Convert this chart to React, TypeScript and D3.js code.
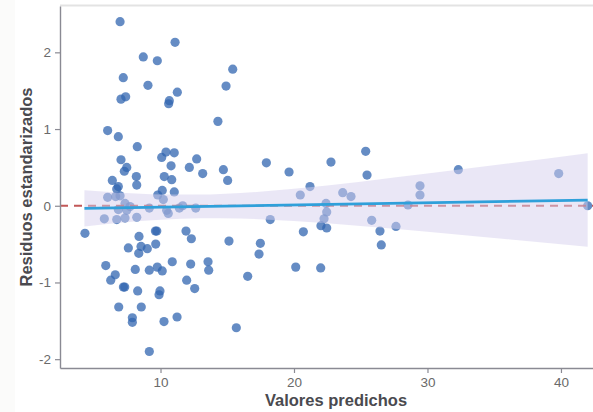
import { useEffect, useRef } from 'react';
import * as d3 from 'd3';

// valores predichos (x) y residuos estandarizados (y)
const predichos = [
  6.97, 11.09, 8.71, 9.76, 7.21, 9.06, 7.39, 7.04, 10.66, 10.61, 11.26, 14.30, 6.04, 15.41, 14.91,
  6.84, 8.26, 7.04, 7.47, 7.29, 8.19, 8.22, 6.39, 6.84, 6.72, 10.09, 10.41, 11.03, 10.79, 10.28,
  10.84, 10.13, 11.03, 9.79, 10.21, 12.16, 12.71, 13.16, 14.71, 15.03, 17.93, 19.63, 22.77, 25.37, 25.47,
  21.20, 20.47, 23.65, 24.27, 22.40, 22.45, 22.25, 18.22, 25.82, 22.02, 22.45, 20.70, 26.44, 27.64, 28.54,
  26.54, 15.13, 17.48, 17.38, 13.56, 13.61, 16.53, 20.13, 22.00, 15.68, 42.00, 32.31, 39.83, 29.44, 29.44,
  6.04, 6.64, 6.97, 7.34, 7.72, 6.84, 7.47, 9.16, 10.46, 10.58, 11.41, 11.66, 12.64, 5.79, 6.72,
  7.34, 8.22, 4.34, 9.62, 9.72, 11.91, 8.39,
  12.31, 7.59, 8.54, 9.01, 8.37, 9.64, 5.90, 6.61, 6.27, 8.11, 9.16, 9.76, 10.13, 10.88, 12.26,
  11.96, 12.56, 7.22, 7.32, 8.29, 9.96, 9.89, 6.87, 8.56, 7.89, 7.89, 10.26, 11.24, 9.16,
];
const residuos = [
  2.40, 2.13, 1.94, 1.89, 1.67, 1.57, 1.42, 1.39, 1.37, 1.33, 1.48, 1.10, 0.98, 1.78, 1.56,
  0.90, 0.77, 0.60, 0.50, 0.45, 0.38, 0.27, 0.33, 0.25, 0.22, 0.63, 0.70, 0.69, 0.52, 0.38,
  0.34, 0.20, 0.18, 0.14, 0.08, 0.50, 0.61, 0.42, 0.47, 0.33, 0.56, 0.44, 0.57, 0.71, 0.40,
  0.25, 0.14, 0.17, 0.12, 0.03, -0.08, -0.17, -0.18, -0.19, -0.26, -0.29, -0.34, -0.33, -0.27, 0.01,
  -0.51, -0.46, -0.49, -0.63, -0.73, -0.84, -0.92, -0.80, -0.81, -1.59, 0.00, 0.47, 0.42, 0.26, 0.14,
  0.11, 0.12, 0.13, 0.03, -0.01, -0.05, -0.06, -0.03, -0.06, -0.10, -0.03, 0.00, -0.03, -0.17, -0.18,
  -0.16, -0.15, -0.36, -0.33, -0.33, -0.33, -0.40,
  -0.43, -0.55, -0.53, -0.56, -0.62, -0.50, -0.78, -0.90, -0.97, -0.83, -0.84, -0.80, -0.85, -0.73, -0.76,
  -0.97, -1.08, -1.06, -1.06, -1.11, -1.11, -1.16, -1.32, -1.32, -1.46, -1.52, -1.51, -1.45, -1.90,
];

// recta ajustada y banda de confianza
const ajusteX = [4.3, 42.0];
const ajusteY = [-0.034, 0.074];
const bandaX = [4.3, 7, 10, 13, 16, 20, 25, 30, 36, 42];
const bandaInf = [-0.269, -0.223, -0.184, -0.164, -0.167, -0.199, -0.264, -0.339, -0.436, -0.536];
const bandaSup = [0.201, 0.171, 0.148, 0.146, 0.166, 0.221, 0.314, 0.419, 0.550, 0.684];

const ticksX = [10, 20, 30, 40];
const ticksY = [-2, -1, 0, 1, 2];

export default function App() {
  const svgRef = useRef<SVGSVGElement>(null);

  useEffect(() => {
    if (!svgRef.current) return;
    const svg = d3.select(svgRef.current);
    svg.selectAll('*').remove();

    const W = 593, H = 412;
    const left = 60, right = 593, top = 6, bottom = 368;
    const font = '"Liberation Sans", Arial, Helvetica, sans-serif';

    const x = d3.scaleLinear().domain([2.47, 42.4]).range([left, right]);
    const y = d3.scaleLinear().domain([-2.115, 2.604]).range([bottom, top]);

    svg.attr('width', W).attr('height', H);
    svg.append('rect').attr('width', W).attr('height', H).attr('fill', '#ffffff');
    svg.append('rect').attr('width', 15).attr('height', H).attr('fill', '#fbfbfa');

    // borde superior claro
    svg.append('line')
      .attr('x1', left).attr('x2', right).attr('y1', top - 0.5).attr('y2', top - 0.5)
      .attr('stroke', '#e3e3e3').attr('stroke-width', 2);

    const pts = predichos.map((v, i) => ({ x: v, y: residuos[i] }));
    svg.append('g').selectAll('circle').data(pts).join('circle')
      .attr('cx', d => x(d.x))
      .attr('cy', d => y(d.y))
      .attr('r', 4.6)
      .attr('fill', '#3166b0')
      .attr('fill-opacity', 0.75);

    // linea de referencia en 0
    svg.append('line')
      .attr('x1', left).attr('x2', right).attr('y1', y(0)).attr('y2', y(0))
      .attr('stroke', '#b83b3b').attr('stroke-width', 2)
      .attr('stroke-dasharray', '8,6').attr('opacity', 0.85);

    const banda = bandaX.map((v, i) => ({ x: v, lo: bandaInf[i], hi: bandaSup[i] }));
    const area = d3.area<{ x: number; lo: number; hi: number }>()
      .x(d => x(d.x)).y0(d => y(d.lo)).y1(d => y(d.hi))
      .curve(d3.curveMonotoneX);
    svg.append('path').datum(banda).attr('d', area)
      .attr('fill', '#d6cfee').attr('fill-opacity', 0.5);

    const ajuste = ajusteX.map((v, i) => ({ x: v, y: ajusteY[i] }));
    svg.append('path').datum(ajuste)
      .attr('d', d3.line<{ x: number; y: number }>().x(d => x(d.x)).y(d => y(d.y)))
      .attr('fill', 'none').attr('stroke', '#2fa0da').attr('stroke-width', 2.8);

    // ejes
    const axisColor = '#8a8a93';
    const gx = svg.append('g').attr('transform', `translate(0,${bottom})`)
      .call(d3.axisBottom(x).tickValues(ticksX).tickSize(5).tickSizeOuter(0).tickPadding(4));
    const gy = svg.append('g').attr('transform', `translate(${left},0)`)
      .call(d3.axisLeft(y).tickValues(ticksY).tickSize(5).tickSizeOuter(0).tickPadding(4));
    [gx, gy].forEach(g => {
      g.select('.domain').attr('stroke', axisColor).attr('stroke-width', 1.4);
      g.selectAll('.tick line').attr('stroke', axisColor).attr('stroke-width', 1.2);
      g.selectAll('.tick text')
        .attr('fill', '#6a6a6a')
        .style('font-family', font)
        .style('font-size', '13.5px');
    });
    gy.selectAll('.tick text').text(d => String(d));

    svg.append('text')
      .attr('x', 336).attr('y', 406)
      .attr('text-anchor', 'middle')
      .attr('fill', '#4a4a4f')
      .style('font-family', font).style('font-size', '16.5px').style('font-weight', 'bold')
      .text('Valores predichos');

    svg.append('text')
      .attr('transform', `translate(32,${(top + bottom) / 2}) rotate(-90)`)
      .attr('text-anchor', 'middle')
      .attr('fill', '#4a4a4f')
      .style('font-family', font).style('font-size', '16.5px').style('font-weight', 'bold')
      .text('Residuos estandarizados');
  }, []);

  return (
    <div style={{ position: 'absolute', left: 0, top: 0 }}>
      <svg ref={svgRef} style={{ display: 'block' }} />
    </div>
  );
}
